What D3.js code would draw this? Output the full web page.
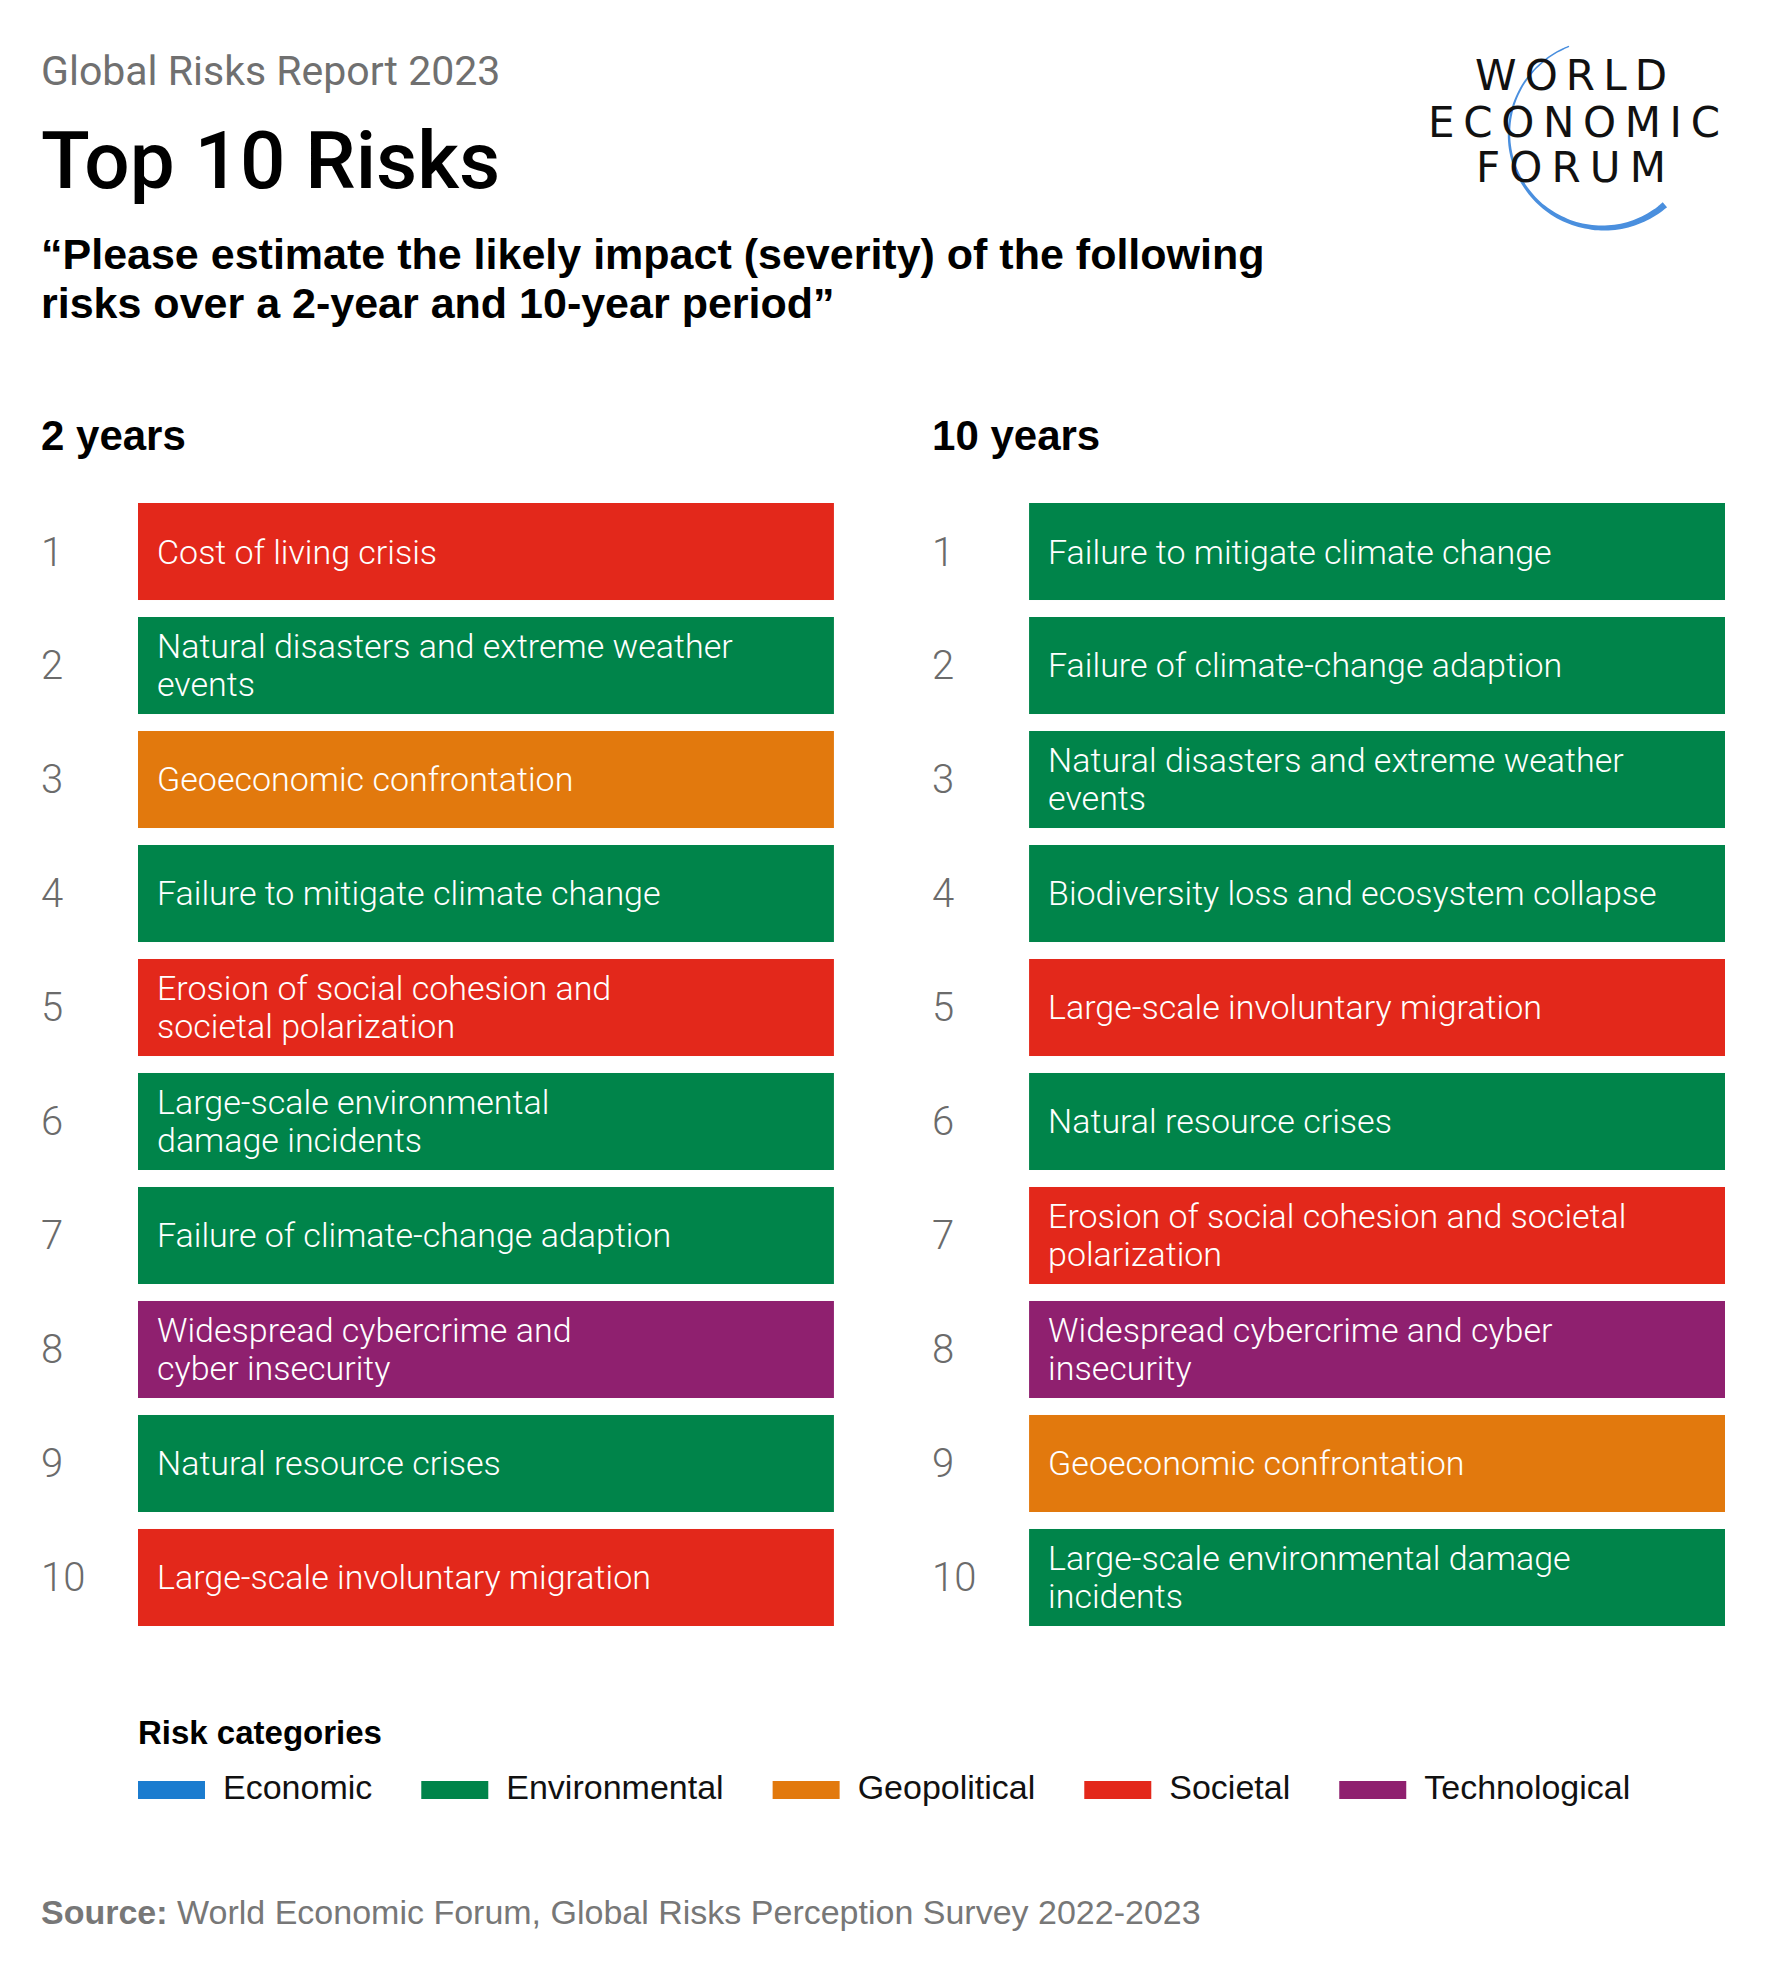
<!DOCTYPE html>
<html>
<head>
<meta charset="utf-8">
<script src="https://cdn.jsdelivr.net/npm/d3@7"></script>
<style>
  body { margin: 0; background: #fff; }
  svg { display: block; }
</style>
</head>
<body>
<div id="chart"></div>
<script>
// ranks and categories
var ranks = [1, 2, 3, 4, 5, 6, 7, 8, 9, 10];
var periods = ["2 years", "10 years"];
var categories = ["Economic", "Environmental", "Geopolitical", "Societal", "Technological"];
var categoryColors = ["#1b7ccf", "#00844a", "#e2790d", "#e3281b", "#8f206f"];

var risks2 = [
  "Cost of living crisis",
  "Natural disasters and extreme weather\nevents",
  "Geoeconomic confrontation",
  "Failure to mitigate climate change",
  "Erosion of social cohesion and\nsocietal polarization",
  "Large-scale environmental\ndamage incidents",
  "Failure of climate-change adaption",
  "Widespread cybercrime and\ncyber insecurity",
  "Natural resource crises",
  "Large-scale involuntary migration"
];
var cats2 = ["Societal", "Environmental", "Geopolitical", "Environmental", "Societal",
  "Environmental", "Environmental", "Technological", "Environmental", "Societal"];

var risks10 = [
  "Failure to mitigate climate change",
  "Failure of climate-change adaption",
  "Natural disasters and extreme weather\nevents",
  "Biodiversity loss and ecosystem collapse",
  "Large-scale involuntary migration",
  "Natural resource crises",
  "Erosion of social cohesion and societal\npolarization",
  "Widespread cybercrime and cyber\ninsecurity",
  "Geoeconomic confrontation",
  "Large-scale environmental damage\nincidents"
];
var cats10 = ["Environmental", "Environmental", "Environmental", "Environmental", "Societal",
  "Environmental", "Societal", "Technological", "Geopolitical", "Environmental"];

var W = 1774, H = 1963;
var LIGHT = "Roboto, 'Liberation Sans', Arial, sans-serif";
var SANS = "'Liberation Sans', Arial, sans-serif";

var svg = d3.select("#chart").append("svg")
  .attr("width", W)
  .attr("height", H)
  .style("font-family", SANS);

svg.append("rect").attr("width", W).attr("height", H).attr("fill", "#fff");

var color = d3.scaleOrdinal().domain(categories).range(categoryColors);

// columns and rows
var x = d3.scaleBand().domain(periods).range([138, 1725]).paddingInner(0.219);
var y = d3.scaleBand().domain(ranks).range([503, 1626]).paddingInner(0.149);
var rankOffset = 97; //rank number sits this far left of the bar

//header
svg.append("text")
  .attr("x", 41).attr("y", 85)
  .attr("font-family", LIGHT)
  .attr("font-size", 41)
  .attr("fill", "#707070")
  .text("Global Risks Report 2023");

svg.append("text")
  .attr("x", 41).attr("y", 188)
  .attr("font-family", LIGHT)
  .attr("font-size", 80)
  .attr("font-weight", 500)
  .attr("fill", "#000")
  .text("Top 10 Risks");

var sub = svg.append("text")
  .attr("font-size", 43)
  .attr("font-weight", 700)
  .attr("fill", "#000");
sub.append("tspan").attr("x", 41).attr("y", 269)
  .text("\u201CPlease estimate the likely impact (severity) of the following");
sub.append("tspan").attr("x", 41).attr("y", 318)
  .text("risks over a 2-year and 10-year period\u201D");

//logo
var logo = svg.append("g");
var arcData = d3.range(0, 1.0001, 0.02).map(function(t) {
  return {a: -0.37 + t * (-3.86 + 0.37), w: 1.5 + 5 * Math.pow(t, 1.6)};
});
var arcArea = d3.areaRadial()
  .angle(function(d) { return d.a; })
  .innerRadius(function(d) { return 94 - d.w / 2; })
  .outerRadius(function(d) { return 94 + d.w / 2; })
  .curve(d3.curveCatmullRom);
logo.append("path")
  .attr("transform", "translate(1603,134)")
  .attr("d", arcArea(arcData))
  .attr("fill", "#4a8fde");

var logoLines = [["WORLD", 1475, 90, 192], ["ECONOMIC", 1428, 137, 292], ["FORUM", 1476, 182, 190]];
logo.selectAll("text.logo")
  .data(logoLines)
  .enter().append("text")
  .attr("class", "logo")
  .attr("x", function(d) { return d[1]; })
  .attr("y", function(d) { return d[2]; })
  .attr("textLength", function(d) { return d[3]; })
  .attr("lengthAdjust", "spacing")
  .attr("font-family", "'DejaVu Sans', sans-serif")
  .attr("font-size", 42)
  .attr("fill", "#111")
  .text(function(d) { return d[0]; });

//columns
var columns = [
  {period: "2 years", risks: risks2, cats: cats2},
  {period: "10 years", risks: risks10, cats: cats10}
];

columns.forEach(function(col) {
  var x0 = x(col.period);
  var g = svg.append("g");

  g.append("text")
    .attr("x", x0 - rankOffset).attr("y", 450)
    .attr("font-size", 42)
    .attr("font-weight", 700)
    .attr("fill", "#000")
    .text(col.period);

  var rows = g.selectAll("g.row")
    .data(ranks)
    .enter().append("g")
    .attr("class", "row")
    .attr("transform", function(d) { return "translate(0," + y(d) + ")"; });

  rows.append("rect")
    .attr("x", x0)
    .attr("width", x.bandwidth())
    .attr("height", y.bandwidth())
    .attr("fill", function(d, i) { return color(col.cats[i]); });

  rows.append("text")
    .attr("x", x0 - rankOffset)
    .attr("y", y.bandwidth() / 2 + 14)
    .attr("font-family", LIGHT)
    .attr("font-size", 40)
    .attr("font-weight", 300)
    .attr("fill", "#6b6b6b")
    .text(function(d) { return d; });

  rows.each(function(d, i) {
    var lines = col.risks[i].split("\n");
    var t = d3.select(this).append("text")
      .attr("font-family", LIGHT)
      .attr("font-size", 34)
      .attr("font-weight", 300)
      .attr("fill", "#fff");
    var mid = y.bandwidth() / 2 + 12 - (lines.length - 1) * 19;
    lines.forEach(function(line, j) {
      t.append("tspan")
        .attr("x", x0 + 19)
        .attr("y", mid + j * 38)
        .text(line);
    });
  });
});

//legend
svg.append("text")
  .attr("x", 138).attr("y", 1744)
  .attr("font-size", 33)
  .attr("font-weight", 700)
  .attr("fill", "#000")
  .text("Risk categories");

var lx = 138;
categories.forEach(function(c) {
  svg.append("rect")
    .attr("x", lx).attr("y", 1781)
    .attr("width", 67).attr("height", 18)
    .attr("fill", color(c));
  var t = svg.append("text")
    .attr("x", lx + 85).attr("y", 1799)
    .attr("font-size", 34)
    .attr("fill", "#111")
    .text(c);
  lx = lx + 85 + t.node().getComputedTextLength() + 49;
});

//source
var src = svg.append("text")
  .attr("x", 41).attr("y", 1924)
  .attr("font-size", 34)
  .attr("fill", "#777");
src.append("tspan").attr("font-weight", 700).text("Source:");
src.append("tspan").text(" World Economic Forum, Global Risks Perception Survey 2022-2023");
</script>
</body>
</html>
